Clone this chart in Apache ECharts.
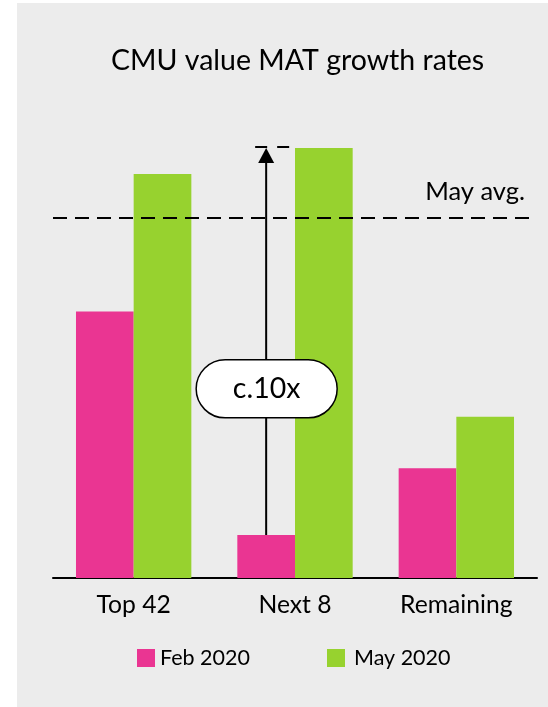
<!DOCTYPE html>
<html>
<head>
<meta charset="utf-8">
<script src="https://cdn.jsdelivr.net/npm/echarts@6/dist/echarts.min.js"></script>
<style>
  html, body { margin: 0; padding: 0; background: #ffffff; }
  #chart { width: 548px; height: 707px; }
</style>
</head>
<body>
<div id="chart"></div>
<script>
// Segments and growth values (relative units)
const categories = ['Top 42', 'Next 8', 'Remaining'];
const feb2020 = [6.2, 1.0, 2.55];
const may2020 = [9.4, 10.0, 3.75];
const mayAverage = 8.37;
const seriesNames = ['Feb 2020', 'May 2020'];
const multipleLabel = 'c.10x';

const PINK = '#ea3592';
const GREEN = '#97d22f';
const CATEGORY_GAP = 0.285;

const chart = echarts.init(document.getElementById('chart'));
const highlightIdx = categories.indexOf('Next 8');

chart.setOption({
  backgroundColor: 'transparent',
  animation: false,
  textStyle: { fontFamily: 'Lato' },
  graphic: [{
    type: 'rect', z: -10, silent: true,
    shape: { x: 17, y: 3, width: 531, height: 704 },
    style: { fill: '#ececec' }
  }],
  title: {
    text: 'CMU value MAT growth rates',
    left: 106, top: 41,
    textStyle: { fontFamily: 'Lato', fontSize: 28.5, fontWeight: 'normal', color: '#000' }
  },
  legend: {
    left: 132, top: 642,
    itemWidth: 18, itemHeight: 18, itemGap: 77,
    icon: 'rect',
    data: [
      { name: seriesNames[0] },
      { name: seriesNames[1], textStyle: { padding: [0, 0, 0, 4] } }
    ],
    textStyle: { fontFamily: 'Lato', fontSize: 21.5, color: '#000' }
  },
  grid: { left: 53, right: 11, top: 118, bottom: 129 },
  xAxis: {
    type: 'category',
    data: categories,
    axisLine: { lineStyle: { color: '#000', width: 2 } },
    axisTick: { show: false },
    axisLabel: { fontFamily: 'Lato', fontSize: 24.7, color: '#000', margin: 15 }
  },
  yAxis: {
    type: 'value', min: 0, max: 10.7, show: false,
    splitLine: { show: false }
  },
  series: [
    {
      name: seriesNames[0], type: 'bar', data: feb2020,
      barGap: '0%', barCategoryGap: (CATEGORY_GAP * 100) + '%',
      itemStyle: { color: PINK }
    },
    {
      name: seriesNames[1], type: 'bar', data: may2020,
      barGap: '0%', barCategoryGap: (CATEGORY_GAP * 100) + '%',
      itemStyle: { color: GREEN },
      markLine: {
        silent: true, symbol: 'none',
        lineStyle: { color: '#000', width: 2, type: [14, 8] },
        label: {
          formatter: 'May avg.', position: 'insideEndTop', distance: [12, 13],
          fontFamily: 'Lato', fontSize: 25.5, color: '#000'
        },
        data: [{ yAxis: mayAverage }]
      }
    },
    {
      // Arrow from the Feb bar to the May level with a pill-shaped label
      type: 'custom',
      silent: true,
      z: 5,
      data: [[highlightIdx, feb2020[highlightIdx], may2020[highlightIdx], 4.4]],
      renderItem(params, api) {
        const band = api.size([1, 0])[0];
        const barW = band * (1 - CATEGORY_GAP) / 2;
        const cx = api.coord([api.value(0), 0])[0] - barW / 2;
        const yFrom = api.coord([api.value(0), api.value(1)])[1];
        const yTo = api.coord([api.value(0), api.value(2)])[1];
        const yLabel = api.coord([api.value(0), api.value(3)])[1];
        return {
          type: 'group',
          children: [
            { type: 'line', shape: { x1: cx, y1: yFrom, x2: cx, y2: yTo + 12 },
              style: { stroke: '#000', lineWidth: 2 } },
            { type: 'polygon', shape: { points: [[cx, yTo], [cx - 8, yTo + 15], [cx + 8, yTo + 15]] },
              style: { fill: '#000' } },
            { type: 'line', shape: { x1: cx - 11, y1: yTo - 1, x2: cx + 28, y2: yTo - 1 },
              style: { stroke: '#000', lineWidth: 2, lineDash: [12, 10] } },
            { type: 'rect', shape: { x: cx - 70, y: yLabel - 29, width: 141, height: 58, r: 29 },
              style: { fill: '#fff', stroke: '#000', lineWidth: 1.5 } },
            { type: 'text', x: cx + 0.5, y: yLabel,
              style: { text: multipleLabel, fontFamily: 'Lato', fontSize: 28.5, fill: '#000',
                       align: 'center', verticalAlign: 'middle' } }
          ]
        };
      }
    }
  ]
});
</script>
</body>
</html>
